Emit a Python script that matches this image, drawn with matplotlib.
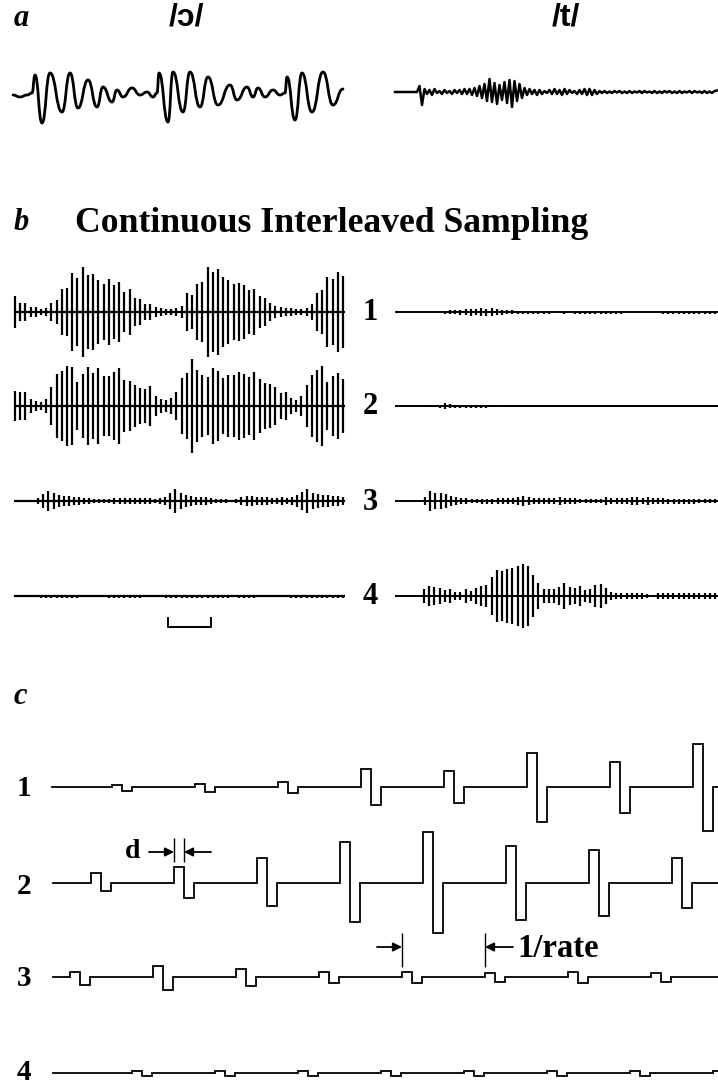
import numpy as np
import matplotlib
matplotlib.use("Agg")
import matplotlib.pyplot as plt
from matplotlib.path import Path
from matplotlib.patches import PathPatch

# ---------------- data (pixel-like units) ----------------
# panel a: vowel /ɔ/ waveform extremes (x, upward deviation)
vowel_x = [13, 20, 27, 32, 35, 42, 50, 62, 70, 78, 88, 97, 103, 112, 117, 123, 132, 140,
           147, 153, 157, 159, 168, 173, 183, 190, 200, 208, 218, 230, 237, 247, 253, 258,
           265, 273, 280, 285, 287, 295, 302, 312, 323, 333, 343]
vowel_y = [0, -2, 0, 2, 20, -28, 22, -17, 22, -13, 15, -12, 8, -7, 5, -2, 7, 0,
           3, -2, 2, 22, -27, 23, -17, 23, -12, 18, -10, 10, -5, 8, -2, 7,
           -2, 5, 0, 2, 18, -25, 22, -17, 23, -10, 6]

# panel a: consonant /t/ waveform, samples every 2.5 units from x=417
t_wave = [0, 6, -13, 3, -2, 2, -3, 3, -1, 1, -2, 2, -1, 1, -2, 2, -1, 2, -2, 3, -2, 3, -3, 4, -4,
          6, -6, 8, -9, 13, -10, 9, -12, 7, -8, 10, -11, 12, -15, 11, -9, 8, -6, 4, -3,
          3, -2, 2, -3, 2, -2, 1, -1, 2, -2, 3, -2, 2, -3, 3, -2, 2, -1, 1, -2, 2, -2, 3, -3, 3,
          -3, 2, -2, 1, -1,
          1, -1, 0.5, -1, 1, -0.5, 1, -1, 0.5, -1, 1, -1, 0.5, -0.5, 1, -1, 1, -0.5, 0.5, -1,
          1, -1, 0.5, -1, 1, -0.5, 1, -1, 0.5, -1, 1, -1, 0.5, -0.5, 1, -1, 1, -0.5, 0.5, -1,
          1, -1, 0.5, -1, 1, 1.5]

# panel b: CIS channel envelopes (pulse half-heights), /ɔ/ side
cis_o_ch1 = [16, 9, 9, 5, 5, 3, 4, 9, 12, 23, 24, 39, 34, 45, 37, 38, 32, 28, 33, 27, 30, 20,
             23, 14, 13, 8, 8, 5, 4, 3, 3, 4, 6, 19, 17, 28, 30, 45, 40, 43, 35, 32, 28, 29,
             27, 22, 23, 16, 14, 9, 6, 5, 4, 4, 3, 3, 4, 8, 19, 22, 35, 33, 40, 36]
cis_o_ch2 = [15, 14, 14, 7, 5, 4, 7, 19, 32, 35, 40, 39, 24, 32, 39, 33, 38, 30, 30, 34, 38,
             26, 25, 21, 18, 17, 20, 10, 7, 6, 8, 14, 28, 33, 47, 36, 31, 29, 38, 35, 28, 31,
             31, 34, 32, 29, 34, 27, 23, 22, 19, 13, 14, 8, 6, 10, 21, 31, 36, 40, 24, 30, 33, 27]
cis_o_ch3 = [1, 1, 1, 1, 3, 7, 10, 8, 6, 5, 5, 4, 4, 3, 3, 2, 2, 2, 2, 3, 3, 3, 3, 3, 3, 3,
             3, 2, 3, 4, 8, 12, 8, 6, 5, 4, 4, 4, 3, 2, 2, 2, 1, 2, 4, 5, 5, 4, 4, 4, 3, 3, 4,
             3, 4, 6, 9, 12, 8, 7, 6, 6, 5, 5, 4]
cis_o_ch4 = [1, 0, 1, 0, 0, 1.5, 1.5, 1.5, 1.5, 1.5, 1.5, 1.5, 1.5, 0, 0, 0, 0, 0, 1.5, 1.5,
             1.5, 1.5, 1.5, 1.5, 1.5, 0, 0, 0, 0, 1.5, 1.5, 1.5, 1.5, 1.5, 1.5, 1.5, 1.5, 1.5,
             1.5, 1.5, 1.5, 1.5, 0, 1.5, 1.5, 1.5, 1.5, 0, 1, 0, 0, 0, 0, 1.5, 1.5, 1.5, 1.5,
             1.5, 1.5, 1.5, 1.5, 1.5, 1.5, 1.5]

# panel b: /t/ side
cis_t_ch1 = [0, 0, 0, 0, 1.5, 2, 2, 2.5, 3, 3.5, 3, 4, 3.5, 4, 3, 2.5, 2, 2, 1.5, 1.5, 1.5,
             1.5, 1.5, 1.5, 1.5, 0, 0, 1.5, 0, 1.5, 1.5, 1.5, 1.5, 1.5, 1.5, 1.5, 1.5, 1.5,
             1.5, 0, 1, 0, 1, 0, 1, 0, 1.5, 1.5, 1.5, 1.5, 1.5, 1.5, 1.5, 1.5, 1.5, 1.5, 1.5]
cis_t_ch2 = [1, 1, 1, 1.5, 3, 2, 1.5, 1.5, 1.5, 1.5, 1.5, 1.5, 1.5, 1, 0, 0, 1, 1, 1, 1, 0,
             1.2, 1.2, 1.2, 1.2, 1.2, 1.2, 1.2, 1.2, 1.2, 1.2, 1.2, 1.2, 1.2, 1.2, 1.2, 1.2,
             1.2, 1.2, 1.2, 1.2, 1.2, 1.2, 1.2, 1.2, 1.2, 1.2, 1.2, 1.2, 1.2, 1.2, 1.2, 1.2,
             1.2, 1.2, 1.2, 1.2]
cis_t_ch3 = [4, 10, 8, 8, 7, 5, 4, 3, 3, 2, 2, 2.5, 2.5, 2.5, 3, 3, 3, 3, 4, 5, 4, 3, 3, 3,
             3, 3, 4, 3, 3, 3, 2, 2, 2, 2, 2, 4, 3, 3, 3, 3, 4, 4, 3, 4, 3, 3, 3, 2.5, 2.5,
             2.5, 2.5, 2.5, 2.5, 2, 2, 2, 2]
cis_t_ch4 = [7, 10, 9, 8, 6, 7, 4, 4, 7, 5, 8, 10, 11, 19, 26, 25, 27, 28, 30, 32, 30, 21, 13,
             7, 7, 7, 9, 13, 9, 8, 10, 6, 7, 11, 12, 8, 4, 3, 3, 3, 3, 3, 3, 2, 1, 3, 3, 3, 3,
             3, 3, 3, 3, 3, 3, 3, 3]

# panel c: biphasic pulse trains (onset times, up/down amplitudes)
pulse_d = 10
c_onsets = {
    1: [112, 195, 278, 361, 444, 527, 610, 693],
    2: [91, 174, 257, 340, 423, 506, 589, 672],
    3: [70, 153, 236, 319, 402, 485, 568, 651],
    4: [132, 215, 298, 381, 464, 547, 630, 713],
}
c_up = {
    1: [2.5, 3.5, 5, 18, 16, 34, 25, 43],
    2: [10, 16, 25, 41, 51, 37, 33, 25],
    3: [5, 11, 8, 5, 5, 4, 5, 4],
    4: [2.5, 2.5, 2.5, 2.5, 2.5, 2.5, 2.5, 2.5],
}
c_down = {
    1: [4, 5, 6, 18, 16, 35, 26, 44],
    2: [8, 15, 23, 39, 50, 37, 33, 25],
    3: [8, 13, 9, 6, 6, 5, 6, 5],
    4: [2.5, 2.5, 2.5, 2.5, 2.5, 2.5, 2.5, 2.5],
}
channel_labels = ["1", "2", "3", "4"]

# ---------------- drawing ----------------
plt.rcParams['font.family'] = ['Liberation Serif', 'DejaVu Serif']
fig = plt.figure(figsize=(7.18, 10.87), dpi=100)
ax = fig.add_axes([0, 0, 1, 1])
ax.set_xlim(0, 718)
ax.set_ylim(1087, 0)
ax.axis('off')
K = 'black'

# panel a
ax.text(14, 18, 'a', fontsize=22, fontweight='bold', fontstyle='italic', va='center', ha='left')
ax.text(186, 17, '/ɔ/', fontsize=23, fontweight='bold', va='center', ha='center',
        family=['Liberation Sans', 'DejaVu Sans'])
ax.text(566, 17, '/t/', fontsize=23, fontweight='bold', va='center', ha='center',
        family=['Liberation Sans', 'DejaVu Sans'])

base_a = 95
verts = [(vowel_x[0], base_a - vowel_y[0])]
codes = [Path.MOVETO]
for i in range(1, len(vowel_x)):
    x0, y0 = vowel_x[i - 1], base_a - vowel_y[i - 1]
    x1, y1 = vowel_x[i], base_a - vowel_y[i]
    m = (x0 + x1) / 2
    verts += [(m, y0), (m, y1), (x1, y1)]
    codes += [Path.CURVE4] * 3
ax.add_patch(PathPatch(Path(verts, codes), fill=False, lw=2.0, ec=K, capstyle='round',
                       joinstyle='round'))

base_t = 92
tx = [395] + list(417 + 2.5 * np.arange(len(t_wave)))
ty = [base_t] + [base_t - v for v in t_wave]
ax.plot(tx, ty, color=K, lw=1.8, solid_joinstyle='round')

# panel b
ax.text(14, 222, 'b', fontsize=22, fontweight='bold', fontstyle='italic', va='center', ha='left')
ax.text(75, 232, 'Continuous Interleaved Sampling', fontsize=25.7, fontweight='bold',
        va='baseline', ha='left')

b_bases = [312, 406, 501, 596]
left_sets = [cis_o_ch1, cis_o_ch2, cis_o_ch3, cis_o_ch4]
left_ranges = [(15, 343), (15, 343), (18, 343), (15, 343)]
right_sets = [cis_t_ch1, cis_t_ch2, cis_t_ch3, cis_t_ch4]
right_ranges = [(424, 715), (424, 715), (425, 715), (424, 715)]
for k in range(4):
    yb = b_bases[k]
    ax.hlines(yb, 14, 345, color=K, lw=1.6)
    amps = np.array(left_sets[k], dtype=float)
    xs = np.linspace(left_ranges[k][0], left_ranges[k][1], len(amps))
    m = amps > 0
    ax.vlines(xs[m], yb - amps[m], yb + amps[m], color=K, lw=1.6)
    ax.hlines(yb, 395, 718, color=K, lw=1.4)
    amps = np.array(right_sets[k], dtype=float)
    xs = np.linspace(right_ranges[k][0], right_ranges[k][1], len(amps))
    m = amps > 0
    ax.vlines(xs[m], yb - amps[m], yb + amps[m], color=K, lw=1.6)
    ax.text(370, yb + 1, channel_labels[k], fontsize=22, fontweight='bold', va='center',
            ha='center')

# scale bar
ax.plot([168, 168, 211, 211], [618, 627, 627, 618], color=K, lw=1.4)

# panel c
ax.text(14, 697, 'c', fontsize=22, fontweight='bold', fontstyle='italic', va='center', ha='left')
c_bases = {1: 787, 2: 883, 3: 977, 4: 1073}
c_starts = {1: 52, 2: 53, 3: 53, 4: 53}
c_label_y = {1: 789, 2: 886, 3: 979, 4: 1072}
for ch in [1, 2, 3, 4]:
    yb = c_bases[ch]
    px = [c_starts[ch]]
    py = [yb]
    for t, u, dn in zip(c_onsets[ch], c_up[ch], c_down[ch]):
        px += [t, t, t + pulse_d, t + pulse_d, t + 2 * pulse_d, t + 2 * pulse_d]
        py += [yb, yb - u, yb - u, yb + dn, yb + dn, yb]
    px.append(730)
    py.append(yb)
    ax.plot(px, py, color=K, lw=1.3, solid_joinstyle='miter')
    ax.text(24, c_label_y[ch], channel_labels[ch - 1], fontsize=21, fontweight='bold',
            va='center', ha='center')

# d annotation
ax.vlines([174, 184], 838, 862, color=K, lw=1.0)
ax.annotate('', xy=(174, 852), xytext=(149, 852),
            arrowprops=dict(arrowstyle='-|>', color=K, lw=1.3, mutation_scale=13,
                            shrinkA=0, shrinkB=0))
ax.annotate('', xy=(184, 852), xytext=(211, 852),
            arrowprops=dict(arrowstyle='-|>', color=K, lw=1.3, mutation_scale=13,
                            shrinkA=0, shrinkB=0))
ax.text(133, 852, 'd', fontsize=20, fontweight='bold', va='center', ha='center')

# 1/rate annotation
ax.vlines([402, 485], 933, 967, color=K, lw=1.0)
ax.annotate('', xy=(402, 947), xytext=(377, 947),
            arrowprops=dict(arrowstyle='-|>', color=K, lw=1.3, mutation_scale=13,
                            shrinkA=0, shrinkB=0))
ax.annotate('', xy=(485, 947), xytext=(513, 947),
            arrowprops=dict(arrowstyle='-|>', color=K, lw=1.3, mutation_scale=13,
                            shrinkA=0, shrinkB=0))
ax.text(517, 957, '1/rate', fontsize=23.5, fontweight='bold', va='baseline', ha='left')

fig.savefig('out.png', dpi=100, facecolor='white')
